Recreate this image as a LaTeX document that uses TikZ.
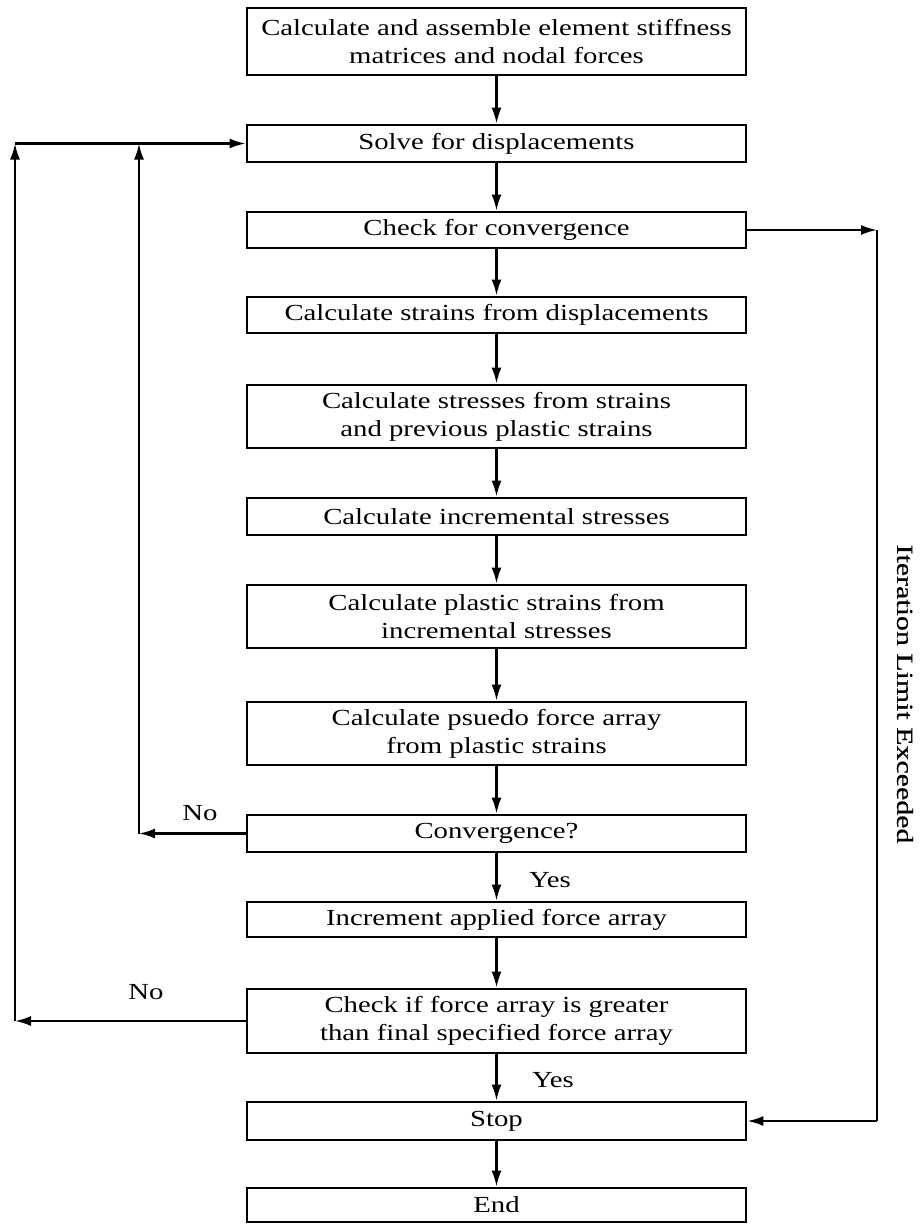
\documentclass[tikz,border=0pt]{standalone}
\usepackage{fontspec}
\setmainfont{Liberation Serif}
\newfontfamily\boxfont[FakeStretch=1.25]{Liberation Serif}
\newfontfamily\sidefont[FakeStretch=1.3,FakeBold=0.6]{Liberation Serif}
\usetikzlibrary{arrows.meta}
\begin{document}
\begin{tikzpicture}[x=1pt,y=-1pt,
  box/.style={draw,line width=2.8pt,minimum width=499pt,inner sep=0pt,align=center,font=\boxfont\fontsize{23}{28}\selectfont},
  arr/.style={line width=2.2pt,-{Latex[length=16pt,width=10pt]}},
  ln/.style={line width=2.2pt},
  lbl/.style={font=\boxfont\fontsize{23}{28}\selectfont}]
\useasboundingbox (0,0) rectangle (919,1224);
\node[box,minimum height=67pt] (b1) at (496.5,41.5) {Calculate and assemble element stiffness\\matrices and nodal forces};
\node[box,minimum height=37pt] (b2) at (496.5,143.5) {Solve for displacements};
\node[box,minimum height=36pt] (b3) at (496.5,230) {Check for convergence};
\node[box,minimum height=36pt] (b4) at (496.5,315) {Calculate strains from displacements};
\node[box,minimum height=63pt] (b5) at (496.5,416.5) {Calculate stresses from strains\\and previous plastic strains};
\node[box,minimum height=37pt] (b6) at (496.5,516.5) {Calculate incremental stresses};
\node[box,minimum height=63pt] (b7) at (496.5,616.5) {Calculate plastic strains from\\incremental stresses};
\node[box,minimum height=63pt] (b8) at (496.5,733.5) {Calculate psuedo force array\\from plastic strains};
\node[box,minimum height=37pt] (b9) at (496.5,833.5) {Convergence?};
\node[box,minimum height=35pt] (b10) at (496.5,919.5) {Increment applied force array};
\node[box,minimum height=64pt] (b11) at (496.5,1021) {Check if force array is greater\\than final specified force array};
\node[box,minimum height=38pt] (b12) at (496.5,1121) {Stop};
\node[box,minimum height=34pt] (b13) at (496.5,1205) {End};
\foreach \a/\b in {b1/b2,b2/b3,b3/b4,b4/b5,b5/b6,b6/b7,b7/b8,b8/b9,b9/b10,b10/b11,b11/b12,b12/b13}
  \draw[arr] (\a.south) -- (\b.north);
% right loop
\coordinate (r1) at (877,230);
\coordinate (r2) at (877,1121);
\draw[arr] (b3.east) -- (r1);
\draw[ln] (r1) -- (r2);
\draw[arr] (r2) -- (b12.east);
% inner left loop
\coordinate (l1) at (139,833.5);
\coordinate (l1t) at (139,143.5);
\draw[arr] (b9.west) -- (l1);
\draw[arr] (l1) -- (l1t);
% outer left loop
\coordinate (l2) at (15,1021);
\coordinate (l2t) at (15,143.5);
\draw[arr] (b11.west) -- (l2);
\draw[arr] (l2) -- (l2t);
\draw[arr] (l2t) -- (b2.west);
% labels
\node[lbl] (no1) at (200,813) {No};
\node[lbl] (no2) at (146,992) {No};
\node[lbl] (yes1) at (550,880) {Yes};
\node[lbl] (yes2) at (553,1080) {Yes};
\node[rotate=-90,font=\sidefont\fontsize{23}{28}\selectfont] (iter) at (905,694) {Iteration Limit Exceeded};
\end{tikzpicture}
\end{document}
